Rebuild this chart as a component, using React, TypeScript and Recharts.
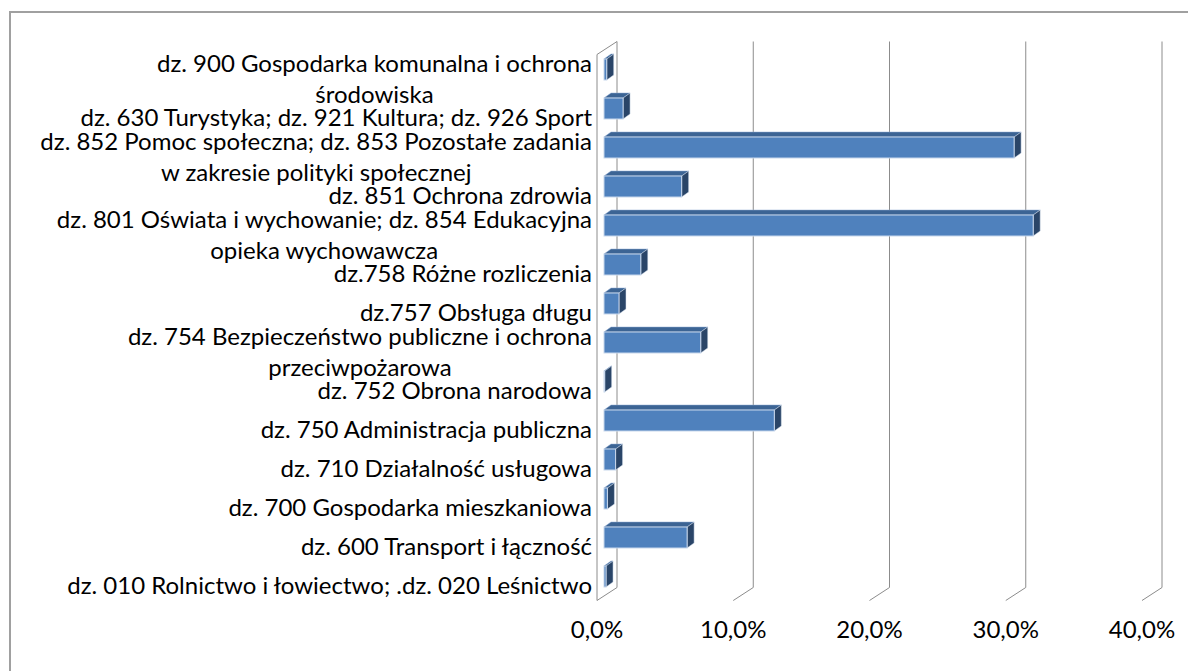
import React from 'react';
import { BarChart, Bar, XAxis, YAxis, CartesianGrid } from 'recharts';

// category labels, top to bottom (second line empty when label fits on one line)
const labelLine1 = [
  'dz. 900 Gospodarka komunalna i ochrona',
  'dz. 630 Turystyka; dz. 921 Kultura; dz. 926 Sport',
  'dz. 852 Pomoc społeczna; dz. 853 Pozostałe zadania',
  'dz. 851 Ochrona zdrowia',
  'dz. 801 Oświata i wychowanie; dz. 854 Edukacyjna',
  'dz.758 Różne rozliczenia',
  'dz.757 Obsługa długu',
  'dz. 754 Bezpieczeństwo publiczne i ochrona',
  'dz. 752 Obrona narodowa',
  'dz. 750 Administracja publiczna',
  'dz. 710 Działalność usługowa',
  'dz. 700 Gospodarka mieszkaniowa',
  'dz. 600 Transport i łączność',
  'dz. 010 Rolnictwo i łowiectwo; .dz. 020 Leśnictwo',
];
const labelLine2 = [
  'środowiska', '', 'w zakresie polityki społecznej', '', 'opieka wychowawcza',
  '', '', 'przeciwpożarowa', '', '', '', '', '', '',
];
// share of expenditure, %
const shares = [0.2, 1.4, 30.1, 5.7, 31.5, 2.7, 1.1, 7.1, 0.05, 12.5, 0.85, 0.25, 6.1, 0.15];
const xTicks = [0, 10, 20, 30, 40];

const data = labelLine1.map((name, i) => ({ name, second: labelLine2[i], value: shares[i] }));

const FONT = 'Lato';
const FONT_SIZE = 24;

let ctx: CanvasRenderingContext2D | null = null;
const measure = (s: string) => {
  if (!ctx) ctx = document.createElement('canvas').getContext('2d');
  if (!ctx) return s.length * 11;
  ctx.font = `${FONT_SIZE}px ${FONT}`;
  return ctx.measureText(s).width;
};

// depth offsets of the 3d box relative to the bar plane
const BACK_DX = 13, BACK_DY = -8.5;
const FRONT_DX = -7, FRONT_DY = 4.5;
const BAR_DX = 7, BAR_DY = -5;

const Bar3D = (props: any) => {
  const { x, y, width, height } = props;
  const w = Math.max(width, 0.5);
  return (
    <g>
      <polygon
        points={`${x},${y} ${x + BAR_DX},${y + BAR_DY} ${x + w + BAR_DX},${y + BAR_DY} ${x + w},${y}`}
        fill="#3c6494" stroke="#8eaad3" strokeWidth={0.5}
      />
      <polygon
        points={`${x + w},${y} ${x + w + BAR_DX},${y + BAR_DY} ${x + w + BAR_DX},${y + height + BAR_DY} ${x + w},${y + height}`}
        fill="#2a4568" stroke="#dbe4f0" strokeWidth={0.5}
      />
      <rect x={x} y={y} width={w} height={height} fill="#4f81bd" stroke="#c8d7ec" strokeWidth={1} />
    </g>
  );
};

const gridLine = (p: any) => {
  const { x1, y1, y2, index } = p;
  const bx = x1 + BACK_DX, fx = x1 + FRONT_DX;
  const ty = y1 + BACK_DY, by = y2 + BACK_DY;
  const fty = y1 + FRONT_DY, fby = y2 + FRONT_DY;
  return (
    <g key={`g-${x1}`} stroke="#8c8c8c" strokeWidth={1} fill="none">
      <line x1={bx} y1={ty} x2={bx} y2={by} />
      <line x1={bx} y1={by} x2={fx} y2={fby} />
      {index === 0 && (
        <>
          <line x1={fx} y1={fty} x2={fx} y2={fby} />
          <line x1={fx} y1={fty} x2={bx} y2={ty} />
        </>
      )}
    </g>
  );
};

const CategoryTick = (props: any) => {
  const { x, y, index } = props;
  const l1 = labelLine1[index];
  const l2 = labelLine2[index];
  const style = { fontFamily: FONT, fontSize: FONT_SIZE, fill: '#000' };
  if (!l2) {
    return (
      <text x={x} y={y + 7.5} textAnchor="end" dominantBaseline="central" style={style}>
        {l1}
      </text>
    );
  }
  const w1 = measure(l1);
  return (
    <g>
      <text x={x} y={y - 7} textAnchor="end" dominantBaseline="central" style={style}>{l1}</text>
      <text x={x - w1 / 2} y={y + 24} textAnchor="middle" dominantBaseline="central" style={style}>{l2}</text>
    </g>
  );
};

const ValueTick = (props: any) => {
  const { x, y, payload } = props;
  return (
    <text x={x + FRONT_DX} y={y + 32} textAnchor="middle" dominantBaseline="central"
      style={{ fontFamily: FONT, fontSize: FONT_SIZE, fill: '#000' }}>
      {`${Number(payload.value).toFixed(1).replace('.', ',')}%`}
    </text>
  );
};

export default function App() {
  return (
    <div style={{ position: 'absolute', left: 0, top: 0, width: 1188, height: 671, background: '#fff' }}>
      <div style={{
        position: 'absolute', left: 9, top: 11, width: 1179, height: 660, boxSizing: 'border-box',
        borderLeft: '2px solid #a0a0a0', borderTop: '2px solid #a0a0a0',
      }} />
      <div style={{ position: 'absolute', left: 0, top: 0 }}>
        <BarChart
          width={1188}
          height={671}
          data={data}
          layout="vertical"
          margin={{ top: 50, right: 39, bottom: 35, left: 0 }}
        >
          <CartesianGrid horizontal={false} vertical={gridLine} />
          <XAxis
            type="number"
            domain={[0, 40]}
            ticks={xTicks}
            height={40}
            axisLine={false}
            tickLine={false}
            tickSize={0}
            tickMargin={0}
            tick={<ValueTick />}
          />
          <YAxis
            type="category"
            dataKey="name"
            width={604}
            axisLine={false}
            tickLine={false}
            tickSize={0}
            tickMargin={12}
            interval={0}
            tick={<CategoryTick />}
          />
          <Bar dataKey="value" barSize={21} shape={<Bar3D />} isAnimationActive={false} />
        </BarChart>
      </div>
    </div>
  );
}
